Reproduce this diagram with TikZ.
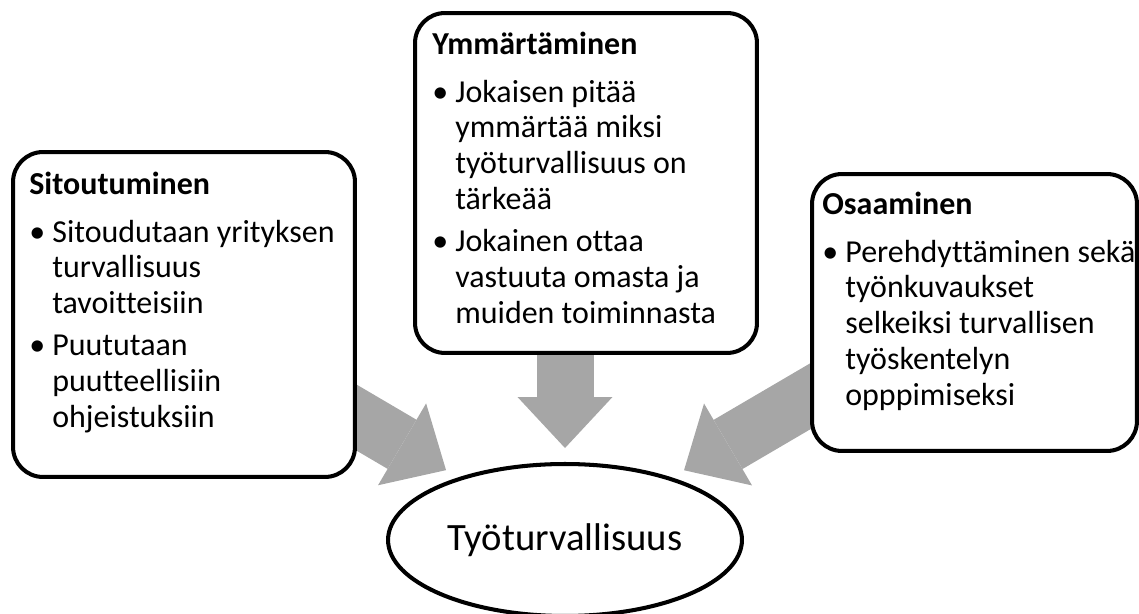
\documentclass[tikz,border=0pt]{standalone}
\usepackage{fontspec}
\setmainfont[Ligatures=NoCommon]{Carlito}
\usetikzlibrary{shapes.geometric,arrows.meta,backgrounds}
\definecolor{arrowgray}{HTML}{A6A6A6}
\newcommand{\bulitem}[1]{\makebox[0.46cm][l]{\textbullet}#1}
\newcommand{\bulcont}[1]{\hspace*{0.46cm}#1}

\begin{document}
\begin{tikzpicture}[x=0.02cm, y=-0.02cm, box/.style = {shape=rectangle, draw, line width=2.3pt, rounded corners=0.6cm, fill=white}, txt/.style = {anchor=base west, inner sep=0pt, font=\fontsize{18.2pt}{20.4pt}\selectfont}, ell/.style = {shape=ellipse, draw, line width=2.3pt, fill=white, inner sep=0pt, font=\fontsize{22pt}{26pt}\selectfont}, blockarrow/.style = {draw=arrowgray, line width=1.14cm, -{Triangle[width=1.9cm, length=1.02cm, line width=0pt]}}]
	\useasboundingbox (0,0) rectangle (1139,614);
	\node[box, minimum width=6.84cm, minimum height=6.5cm] (sito) at (184,314.5) {};
	\node[box, minimum width=6.84cm, minimum height=6.8cm] (ymm) at (586,183) {};
	\node[box, minimum width=6.5cm, minimum height=5.54cm] (osa) at (974.5,312.5) {};
	\node[ell, minimum width=7.08cm, minimum height=3.04cm] (tyo) at (565,540) {Työturvallisuus};
	\node[txt] (sitoText) at (29,195) {\parbox[t]{6.5cm}{\textbf{Sitoutuminen}\par\vspace{6.4pt}
		\bulitem{Sitoudutaan yrityksen}\\ \bulcont{turvallisuus}\\ \bulcont{tavoitteisiin}\par\vspace{3.6pt}
		\bulitem{Puututaan}\\ \bulcont{puutteellisiin}\\ \bulcont{ohjeistuksiin}}};
	\node[txt] (ymmText) at (432,55) {\parbox[t]{6.5cm}{\textbf{Ymmärtäminen}\par\vspace{6.4pt}
		\bulitem{Jokaisen pitää}\\ \bulcont{ymmärtää miksi}\\ \bulcont{työturvallisuus on}\\ \bulcont{tärkeää}\par\vspace{3.6pt}
		\bulitem{Jokainen ottaa}\\ \bulcont{vastuuta omasta ja}\\ \bulcont{muiden toiminnasta}}};
	\node[txt] (osaText) at (822,215) {\parbox[t]{6.3cm}{\textbf{Osaaminen}\par\vspace{6.4pt}
		\bulitem{Perehdyttäminen sekä}\\ \bulcont{työnkuvaukset}\\ \bulcont{selkeiksi turvallisen}\\ \bulcont{työskentelyn}\\ \bulcont{opppimiseksi}}};
	% arrows behind the boxes
	\begin{pgfonlayer}{background}
		\coordinate (sitoTail) at (330,402);
		\coordinate (ymmTail) at (565,330);
		\coordinate (osaTail) at (850,373);
		\draw[blockarrow, shorten >=2.76cm] (sitoTail) -- (tyo.center);
		\draw[blockarrow, shorten >=1.84cm] (ymmTail) -- (tyo.center);
		\draw[blockarrow, shorten >=2.76cm] (osaTail) -- (tyo.center);
	\end{pgfonlayer}
\end{tikzpicture}
\end{document}
